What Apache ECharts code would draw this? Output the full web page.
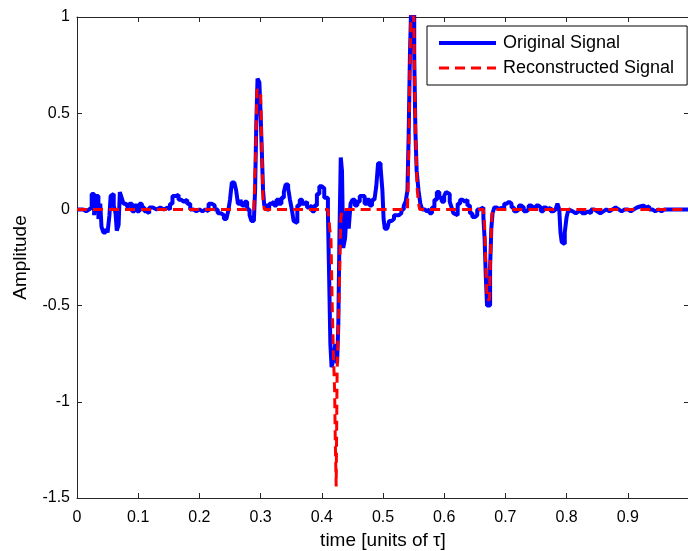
<!DOCTYPE html>
<html>
<head>
<meta charset="utf-8">
<script src="https://cdn.jsdelivr.net/npm/echarts@6/dist/echarts.min.js"></script>
<style>html,body{margin:0;padding:0;background:#fff;}#c{width:688px;height:551px;}</style>
</head>
<body>
<div id="c"></div>
<script>
// Original signal (time, amplitude)
var origT = [0,0.005,0.01,0.015,0.02,0.024,0.028,0.031,0.035,0.038,0.04,0.043,0.047,0.05,0.053,0.055,0.058,0.06,0.063,0.065,0.068,0.07,0.073,0.076,0.08,0.083,0.086,0.09,0.094,0.098,
0.102,0.106,0.11,0.114,0.118,0.124,0.13,0.136,0.142,0.148,0.152,0.156,0.162,0.166,0.17,0.175,0.18,0.185,0.19,0.195,0.2,0.205,0.21,0.215,0.22,0.225,0.23,0.235,0.24,0.244,0.247,
0.25,0.253,0.257,0.26,0.263,0.267,0.27,0.274,0.278,0.282,0.285,0.289,0.291,0.293,0.295,0.298,0.3,0.302,0.304,0.306,0.31,0.314,0.318,0.322,0.326,0.33,0.334,0.338,0.341,0.345,0.348,
0.351,0.354,0.357,0.36,0.364,0.368,0.372,0.376,0.38,0.384,0.388,0.392,0.396,0.4,0.404,0.407,0.41,0.412,0.414,0.416,0.419,0.422,0.425,0.427,0.429,0.431,0.433,0.435,0.438,0.441,
0.444,0.447,0.45,0.454,0.458,0.462,0.466,0.47,0.474,0.478,0.482,0.486,0.489,0.492,0.496,0.499,0.501,0.503,0.507,0.51,0.514,0.518,0.522,0.526,0.53,0.534,0.537,0.54,0.542,0.544,
0.546,0.549,0.551,0.553,0.555,0.558,0.561,0.564,0.568,0.572,0.576,0.58,0.584,0.588,0.592,0.596,0.6,0.603,0.606,0.609,0.612,0.615,0.618,0.622,0.626,0.63,0.634,0.638,0.642,0.646,
0.65,0.654,0.658,0.661,0.664,0.666,0.668,0.67,0.673,0.675,0.677,0.679,0.682,0.686,0.69,0.694,0.698,0.702,0.706,0.71,0.714,0.718,0.722,0.726,0.73,0.734,0.738,0.742,0.746,0.75,
0.754,0.758,0.762,0.766,0.77,0.774,0.778,0.782,0.785,0.788,0.79,0.792,0.795,0.797,0.8,0.803,0.806,0.81,0.815,0.82,0.825,0.83,0.835,0.84,0.845,0.85,0.855,0.86,0.865,0.87,
0.875,0.88,0.885,0.89,0.895,0.9,0.905,0.91,0.915,0.92,0.925,0.93,0.935,0.94,0.945,0.95,0.955,0.96,0.97,0.98,0.99,1.0];
var origA = [0,0.0,-0.01,0.0,0.01,0.08,-0.03,0.07,-0.05,0.03,-0.09,-0.12,-0.1,-0.12,-0.03,0.07,0.08,0.02,-0.02,-0.11,-0.08,0.09,0.06,0.03,0.04,0.01,0.03,-0.01,0.02,-0.01,
0.03,0.01,-0.01,-0.02,0.01,0.0,0.01,0.0,0.01,0.0,0.03,0.07,0.075,0.05,0.04,0.05,0.03,0.0,-0.01,0.0,-0.01,0.0,-0.01,0.03,0.02,0.0,-0.02,-0.03,-0.05,-0.06,-0.01,
0.05,0.14,0.15,0.1,0.03,0.05,0.02,0.04,0.0,-0.03,-0.06,-0.05,0.1,0.45,0.68,0.66,0.5,0.3,0.1,0.02,0.0,0.03,0.04,0.02,0.05,0.03,0.06,0.09,0.13,0.11,0.05,
0.0,-0.06,-0.07,0.02,0.05,0.03,0.04,0.01,0.02,-0.01,0.02,0.08,0.12,0.11,0.06,0.06,-0.02,-0.35,-0.7,-0.82,-0.78,-0.7,-0.8,-0.6,-0.1,0.27,0.2,-0.2,-0.15,0.0,
-0.1,0.03,0.05,0.02,0.04,0.07,0.07,0.03,0.05,0.02,0.05,0.06,0.12,0.24,0.22,0.1,-0.05,-0.1,-0.09,-0.06,-0.05,-0.03,-0.03,-0.02,0.0,0.02,0.04,0.1,0.4,0.8,
1.05,1.05,0.8,0.4,0.2,0.1,0.03,0.0,-0.01,0.0,-0.02,0.01,0.05,0.09,0.06,0.04,0.07,0.09,0.08,0.04,0.01,-0.02,-0.03,0.03,0.05,0.04,0.05,0.02,-0.02,-0.04,
-0.03,0.0,-0.01,0.01,-0.04,-0.15,-0.35,-0.5,-0.5,-0.3,-0.1,-0.02,0.01,0.0,0.01,0.0,0.03,0.04,0.03,0.01,-0.01,0.0,0.02,0.01,-0.01,0.0,0.02,0.01,0.0,0.02,
0.01,-0.01,0.01,0.0,0.01,-0.01,0.0,0.01,0.03,0.0,-0.12,-0.17,-0.18,-0.12,-0.04,0.0,-0.01,-0.02,-0.01,0.0,-0.02,-0.01,-0.02,0.0,-0.01,-0.02,-0.01,0.0,-0.01,0.0,
0.01,0.0,-0.01,0.0,0.0,-0.01,0.0,0.01,0.015,0.02,0.01,0.015,0.0,-0.01,0.0,-0.01,0.0,0.0,0.0,0.0,0.0,0.0];

// Reconstructed signal (time, amplitude)
var reconT = [0,0.289,0.292,0.294,0.3,0.302,0.304,0.306,0.41,0.413,0.415,0.417,0.419,0.421,0.422,0.4235,0.425,0.427,0.429,0.431,0.433,
0.54,0.542,0.544,0.546,0.55,0.552,0.554,0.556,0.558,0.56,0.664,0.666,0.668,0.67,0.674,0.676,0.678,0.68,1.0];
var reconA = [0,0,0.3,0.62,0.62,0.3,0.05,0,0,-0.1,-0.15,-0.5,-0.75,-0.95,-1.2,-1.44,-0.85,-0.6,-0.35,-0.05,0,
0,0.3,0.75,1.05,1.05,0.6,0.3,0.1,0.03,0,0,-0.08,-0.3,-0.47,-0.47,-0.2,-0.03,0,0];

var xTicks = [0,0.1,0.2,0.3,0.4,0.5,0.6,0.7,0.8,0.9];
var yTicks = [-1.5,-1,-0.5,0,0.5,1];

function pairs(t, a){ var r=[]; for (var i=0;i<t.length;i++) r.push([t[i], a[i]]); return r; }

var chart = echarts.init(document.getElementById('c'), null, {renderer:'canvas'});
var FONT = 'Liberation Sans';
var axisCol = '#262626';
function frameAxis(extra){
  var base = {
    axisLine: {show: true, onZero: false, lineStyle: {color: axisCol, width: 1}},
    axisTick: {show: true, inside: true, length: 5, lineStyle: {color: axisCol}},
    splitLine: {show: false}
  };
  for (var k in extra) base[k] = extra[k];
  return base;
}
chart.setOption({
  backgroundColor: '#ffffff',
  animation: false,
  grid: {left: 77, top: 17, width: 612, height: 481, containLabel: false, outerBoundsMode: 'none'},
  legend: {
    left: 427, top: 26,
    orient: 'vertical',
    backgroundColor: '#fff',
    borderColor: '#000', borderWidth: 1, borderRadius: 0,
    padding: [8, 13, 8, 10],
    itemWidth: 57, itemHeight: 14, itemGap: 7,
    itemStyle: {opacity: 0},
    lineStyle: {width: 'inherit'},
    textStyle: {fontFamily: FONT, fontSize: 18, color: '#000', padding: [0, 0, 0, 2]},
    data: ['Original Signal', 'Reconstructed Signal']
  },
  xAxis: [frameAxis({
    type: 'value', min: 0, max: 1, interval: 0.1, position: 'bottom',
    name: 'time [units of τ]', nameLocation: 'middle', nameGap: 32,
    nameTextStyle: {fontFamily: FONT, fontSize: 19, color: '#000'},
    axisLabel: {fontFamily: FONT, fontSize: 16, color: '#000', margin: 12,
      formatter: function(v){ var r = Math.round(v*10)/10; if (xTicks.indexOf(r) < 0) return ''; return String(r); }}
  }), frameAxis({
    type: 'value', min: 0, max: 1, interval: 0.1, position: 'top',
    axisLabel: {show: false}
  })],
  yAxis: [frameAxis({
    type: 'value', min: -1.5, max: 1, interval: 0.5, position: 'left',
    name: 'Amplitude', nameLocation: 'middle', nameGap: 47, nameRotate: 90,
    nameTextStyle: {fontFamily: FONT, fontSize: 19, color: '#000'},
    axisLabel: {fontFamily: FONT, fontSize: 16, color: '#000', margin: 7,
      formatter: function(v){ var r = Math.round(v*10)/10; return yTicks.indexOf(r) < 0 ? '' : String(r); }}
  }), frameAxis({
    type: 'value', min: -1.5, max: 1, interval: 0.5, position: 'right',
    axisLabel: {show: false}
  })],
  series: [{
    name: 'Original Signal', type: 'line', step: 'end',
    xAxisIndex: 0, yAxisIndex: 0,
    data: pairs(origT, origA), symbol: 'none', clip: true,
    lineStyle: {color: '#0000ff', width: 4}, itemStyle: {color: '#0000ff'}, z: 2
  }, {
    name: 'Reconstructed Signal', type: 'line', step: 'end',
    xAxisIndex: 0, yAxisIndex: 0,
    data: pairs(reconT, reconA), symbol: 'none', clip: true,
    lineStyle: {color: '#ff0000', width: 3, type: [10, 6]}, itemStyle: {color: '#ff0000'}, z: 3
  }]
});
</script>
</body>
</html>
